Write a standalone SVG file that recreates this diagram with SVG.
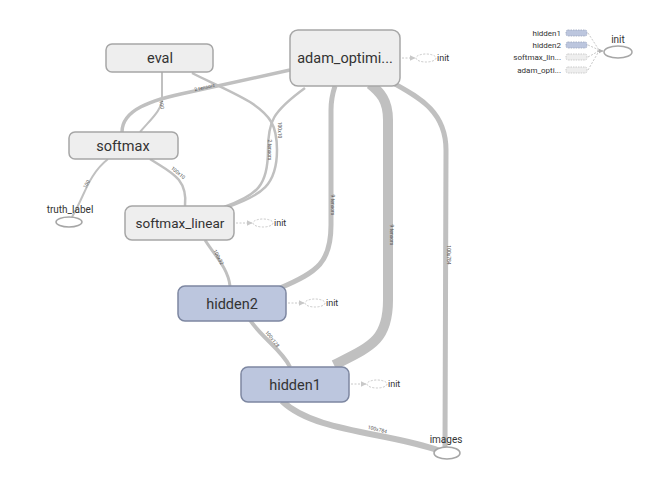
<svg xmlns="http://www.w3.org/2000/svg" width="666" height="491" viewBox="0 0 666 491">
  <defs>
    <marker id="ctrlArrow" viewBox="0 0 10 10" refX="9" refY="5" markerWidth="6" markerHeight="6" orient="auto">
      <path d="M0,0 L10,5 L0,10 z" fill="#c8c8c8"/>
    </marker>
    <marker id="legendArrow" viewBox="0 0 10 10" refX="9" refY="5" markerWidth="5" markerHeight="5" orient="auto">
      <path d="M0,0 L10,5 L0,10 z" fill="#b0b0b0"/>
    </marker>
  </defs>
  <style>
    .edge { fill: none; stroke: #c0c0c0; stroke-linecap: butt; }
    .elabel { font-family: Roboto, "Liberation Sans", sans-serif; font-size: 5px; fill: #555; text-anchor: middle; }
    .op { fill: #eeeeee; stroke: #a6a6a6; stroke-width: 1.5; }
    .meta { fill: #bcc6de; stroke: #7d87a1; stroke-width: 1.5; }
    .name { font-family: Roboto, "Liberation Sans", sans-serif; font-size: 14.5px; fill: #333; text-anchor: middle; dominant-baseline: central; }
    .small { font-family: Roboto, "Liberation Sans", sans-serif; font-size: 9px; fill: #333; dominant-baseline: central; }
    .leaf { fill: #ffffff; stroke: #a6a6a6; stroke-width: 1.5; }
    .ctrl { fill: none; stroke: #c8c8c8; stroke-width: 1; stroke-dasharray: 2,1.5; }
    .ghost { fill: #ffffff; stroke: #c8c8c8; stroke-width: 1; stroke-dasharray: 2,1.5; }
    .legendText { font-family: Roboto, "Liberation Sans", sans-serif; font-size: 8px; fill: #333; text-anchor: end; dominant-baseline: central; }
  </style>

  <!-- data-flow connectors -->
  <g id="connectors">
    <!-- images -> hidden1 -->
    <path class="edge" stroke-width="6" d="M440,451 C390,432 315,433 282,401"/>
    <text class="elabel" transform="translate(377,431) rotate(14)">100x784</text>
    <!-- images -> adam_optimizer -->
    <path class="edge" stroke-width="5" d="M445,447 L446,150 C446,112 420,98 395,84"/>
    <text class="elabel" transform="translate(447,255) rotate(90)">100x784</text>
    <!-- hidden1 -> adam_optimizer -->
    <path class="edge" stroke-width="10" d="M334,365 C372,346 388,340 388,300 L388,120 C388,100 380,92 370,84"/>
    <text class="elabel" transform="translate(390,235) rotate(90)">9 tensors</text>
    <!-- hidden2 -> adam_optimizer -->
    <path class="edge" stroke-width="5" d="M280,288 C318,272 331,262 331,225 L331,110 C331,98 333,92 335,86"/>
    <text class="elabel" transform="translate(331,205) rotate(90)">9 tensors</text>
    <!-- hidden1 -> hidden2 -->
    <path class="edge" stroke-width="4" d="M290,367 C282,350 262,338 250,320"/>
    <text class="elabel" transform="translate(271,340) rotate(52)">100x128</text>
    <!-- hidden2 -> softmax_linear -->
    <path class="edge" stroke-width="3" d="M230,286 C228,268 215,256 205,240"/>
    <text class="elabel" transform="translate(217,258) rotate(62)">100x32</text>
    <!-- softmax_linear -> softmax -->
    <path class="edge" stroke-width="2.5" d="M185,206 C188,178 170,172 150,159"/>
    <text class="elabel" transform="translate(177,174) rotate(40)">100x10</text>
    <!-- softmax_linear -> eval -->
    <path class="edge" stroke-width="2.5" d="M228,207 C262,195 277,185 277,150 C277,125 270,115 250,102 C230,90 205,80 192,73"/>
    <text class="elabel" transform="translate(278,130) rotate(90)">100x10</text>
    <!-- softmax_linear -> adam_optimizer -->
    <path class="edge" stroke-width="2.5" d="M224,207 C258,195 268,185 268,150 C268,122 272,112 305,88"/>
    <text class="elabel" transform="translate(268,150) rotate(90)">2 tensors</text>
    <!-- softmax -> adam_optimizer -->
    <path class="edge" stroke-width="3.5" d="M122,132 C122,110 150,100 190,92 L290,70"/>
    <text class="elabel" transform="translate(205,89) rotate(-13)">2 tensors</text>
    <!-- softmax -> eval -->
    <path class="edge" stroke-width="2" d="M140,132 C152,118 162,110 162,98 L162,72"/>
    <text class="elabel" transform="translate(160,105) rotate(80)">100</text>
    <!-- truth_label -> softmax -->
    <path class="edge" stroke-width="2" d="M72,217 C85,195 88,175 108,159"/>
    <text class="elabel" transform="translate(88,185) rotate(-60)">100</text>
  </g>

  <!-- init control dependencies (dashed) -->
  <g id="init-links">
    <line class="ctrl" x1="402" y1="58" x2="415" y2="58" marker-end="url(#ctrlArrow)"/>
    <ellipse class="ghost" cx="426" cy="58" rx="10" ry="4"/>
    <text class="small" x="437" y="58">init</text>

    <line class="ctrl" x1="236" y1="223" x2="252" y2="223" marker-end="url(#ctrlArrow)"/>
    <ellipse class="ghost" cx="263" cy="223" rx="10" ry="4"/>
    <text class="small" x="274" y="223">init</text>

    <line class="ctrl" x1="288" y1="303" x2="304" y2="303" marker-end="url(#ctrlArrow)"/>
    <ellipse class="ghost" cx="315" cy="303" rx="10" ry="4"/>
    <text class="small" x="326" y="303">init</text>

    <line class="ctrl" x1="351" y1="384" x2="366" y2="384" marker-end="url(#ctrlArrow)"/>
    <ellipse class="ghost" cx="377" cy="384" rx="10" ry="4"/>
    <text class="small" x="388" y="384">init</text>
  </g>

  <g id="eval">
    <rect class="op" x="106" y="44" width="107" height="28" rx="6"/>
    <text class="name" x="160" y="58">eval</text>
  </g>

  <g id="adam_optimizer">
    <rect class="op" x="290" y="30" width="110" height="56" rx="8"/>
    <text class="name" x="345" y="58">adam_optimi...</text>
  </g>

  <g id="softmax">
    <rect class="op" x="69" y="132" width="109" height="27" rx="6"/>
    <text class="name" x="123" y="146">softmax</text>
  </g>

  <g id="truth_label">
    <text class="small" x="70" y="209" text-anchor="middle" style="font-size:10px">truth_label</text>
    <ellipse class="leaf" cx="69" cy="222" rx="13" ry="5"/>
  </g>

  <g id="softmax_linear">
    <rect class="op" x="125" y="206" width="109" height="34" rx="7"/>
    <text class="name" x="180" y="223" style="font-size:13.5px">softmax_linear</text>
  </g>

  <g id="hidden2">
    <rect class="meta" x="178" y="286" width="108" height="35" rx="7"/>
    <text class="name" x="232" y="304">hidden2</text>
  </g>

  <g id="hidden1">
    <rect class="meta" x="241" y="367" width="108" height="35" rx="7"/>
    <text class="name" x="295" y="385">hidden1</text>
  </g>

  <g id="images">
    <text class="small" x="446" y="439" text-anchor="middle" style="font-size:10px">images</text>
    <ellipse class="leaf" cx="447" cy="453" rx="13" ry="6"/>
  </g>

  <!-- init node with its input summary -->
  <g id="init">
    <text class="legendText" x="561" y="33">hidden1</text>
    <text class="legendText" x="561" y="45">hidden2</text>
    <text class="legendText" x="561" y="57">softmax_lin...</text>
    <text class="legendText" x="561" y="70">adam_opti...</text>
    <rect x="566" y="30" width="21" height="6" rx="2" fill="#bcc6de" stroke="#9aa4bd" stroke-width="0.8" stroke-dasharray="1.5,1"/>
    <rect x="566" y="42" width="21" height="6" rx="2" fill="#bcc6de" stroke="#9aa4bd" stroke-width="0.8" stroke-dasharray="1.5,1"/>
    <rect x="566" y="54" width="21" height="6" rx="2" fill="#eeeeee" stroke="#c0c0c0" stroke-width="0.8" stroke-dasharray="1.5,1"/>
    <rect x="566" y="67" width="21" height="6" rx="2" fill="#eeeeee" stroke="#c0c0c0" stroke-width="0.8" stroke-dasharray="1.5,1"/>
    <g class="ctrl" stroke="#b0b0b0">
      <line x1="588" y1="33" x2="599" y2="50"/>
      <line x1="588" y1="45" x2="599" y2="50"/>
      <line x1="588" y1="57" x2="599" y2="51"/>
      <line x1="588" y1="70" x2="599" y2="51"/>
    </g>
    <line x1="597" y1="51" x2="603" y2="51" stroke="#b0b0b0" stroke-width="1" marker-end="url(#legendArrow)"/>
    <ellipse class="leaf" cx="618" cy="52" rx="14" ry="6"/>
    <text class="small" x="618" y="39" text-anchor="middle" style="font-size:10px">init</text>
  </g>
</svg>
